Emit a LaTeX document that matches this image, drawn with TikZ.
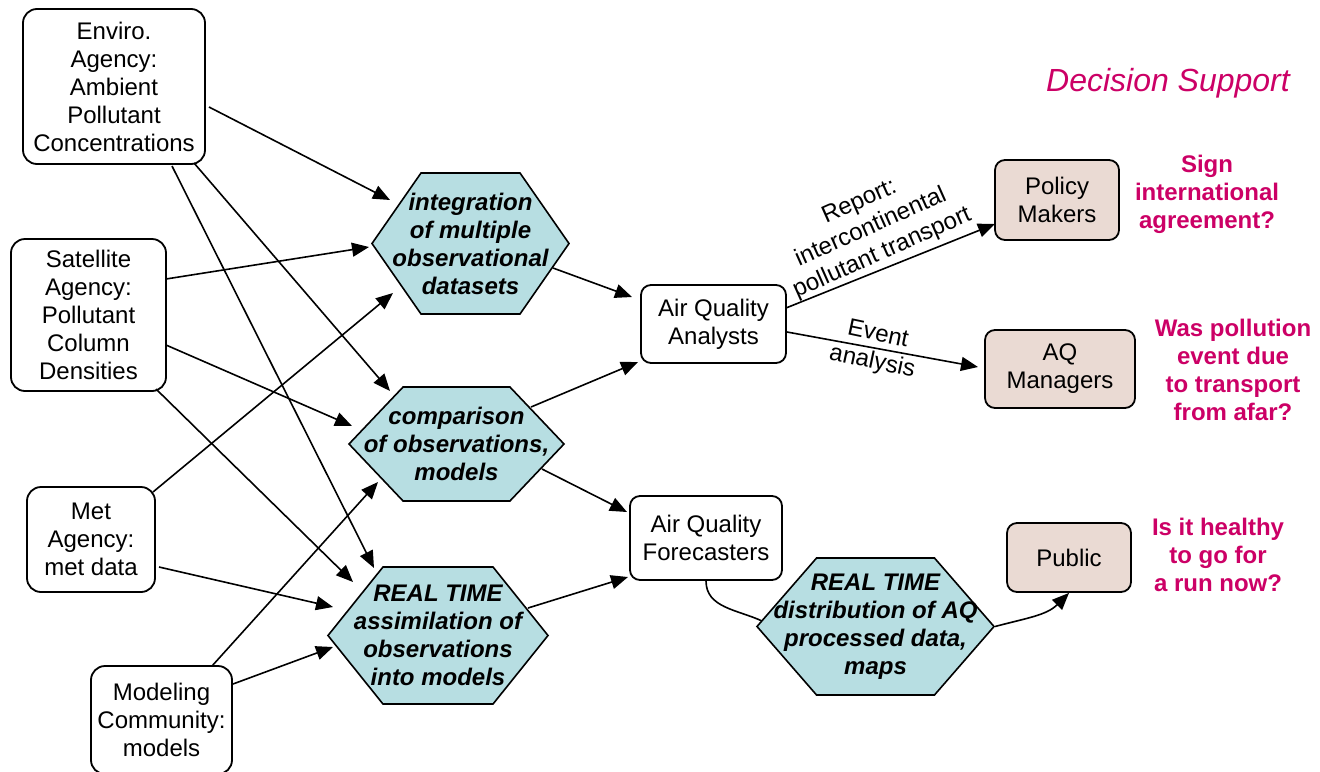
\documentclass[tikz,border=0pt]{standalone}
\usepackage{fontspec}
\setmainfont{Liberation Sans}
\usetikzlibrary{shapes.symbols,arrows.meta,calc}
\definecolor{hexfill}{RGB}{183,222,226}
\definecolor{pinkfill}{RGB}{234,218,211}
\definecolor{mag}{RGB}{204,0,102}
\begin{document}
\begin{tikzpicture}[x=0.5pt,y=-0.5pt,
  every node/.style={font=\fontsize{12}{14}\selectfont, align=center, inner sep=0pt},
  src/.style={draw, line width=0.9pt, rounded corners=7pt},
  dst/.style={draw, line width=0.9pt, rounded corners=5pt},
  pinkbox/.style={dst, fill=pinkfill},
  hexa/.style={signal, signal to=east and west, draw, fill=hexfill, line width=0.8pt},
  hextext/.style={font=\fontsize{12}{14}\selectfont\bfseries\itshape},
  q/.style={font=\fontsize{12}{14}\selectfont\bfseries, text=mag},
  arr/.style={line width=0.8pt, -{Triangle[length=8.5pt,width=7pt]}},
  ln/.style={line width=0.8pt}]
\path[fill=white,use as bounding box] (0,0) rectangle (1320,771);
% source boxes
\node[src, minimum width=91pt, minimum height=77.5pt] (env) at (114,86.5) {Enviro.\\Agency:\\Ambient\\Pollutant\\Concentrations};
\node[src, minimum width=77.5pt, minimum height=76pt] (sat) at (88.5,315) {Satellite\\Agency:\\Pollutant\\Column\\Densities};
\node[src, minimum width=64pt, minimum height=52.5pt] (met) at (91,539.5) {Met\\Agency:\\met data};
\node[src, minimum width=70.5pt, minimum height=54pt] (mod) at (161.5,720) {Modeling\\Community:\\models};
% hexagons
\node[hexa, minimum width=98.5pt, minimum height=70.5pt, signal pointer angle=110.4] (h1) at (470.5,243.5) {};
\node[hextext] (h1t) at (h1) {integration\\of multiple\\observational\\datasets};
\node[hexa, minimum width=107.5pt, minimum height=57pt, signal pointer angle=93] (h2) at (456.5,444) {};
\node[hextext] (h2t) at (h2) {comparison\\of observations,\\models};
\node[hexa, minimum width=110pt, minimum height=68.5pt, signal pointer angle=102.5] (h3) at (438,635.5) {};
\node[hextext] (h3t) at (h3) {REAL TIME\\assimilation of\\observations\\into models};
\node[hexa, minimum width=118.5pt, minimum height=68.5pt, signal pointer angle=98] (h4) at (875.5,626.5) {};
\node[hextext] (h4t) at (h4) {REAL TIME\\distribution of AQ\\processed data,\\maps};
% user boxes
\node[dst, minimum width=72.5pt, minimum height=39pt] (ana) at (713.5,324) {Air Quality\\Analysts};
\node[dst, minimum width=76pt, minimum height=42pt] (fc) at (706,538) {Air Quality\\Forecasters};
\node[pinkbox, minimum width=62pt, minimum height=40pt] (pol) at (1057,200) {Policy\\Makers};
\node[pinkbox, minimum width=75pt, minimum height=39pt] (aqm) at (1060,369) {AQ\\Managers};
\node[pinkbox, minimum width=62pt, minimum height=34.5pt] (pub) at (1069,557.5) {Public};
% texts
\node[font=\fontsize{16}{19}\selectfont\itshape, text=mag] (ds) at (1168,83) {Decision Support};
\node[q] (q1) at (1207,194) {Sign\\international\\agreement?};
\node[q] (q2) at (1233,370) {Was pollution\\event due\\to transport\\from afar?};
\node[q] (q3) at (1218,555) {Is it healthy\\to go for\\a run now?};
\node[rotate=24] (lblrep) at (871,228) {Report:\\intercontinental\\pollutant transport};
\node[rotate=-12] (lblevt) at (875,349) {Event\\analysis};
% connectors
\draw[arr] ($(env)+(95,20.5)$) -- ($(h1)+(-80.5,-43.5)$);
\draw[arr] ($(env)+(80,76.5)$) -- ($(h2)+(-66.5,-53)$);
\draw[arr] ($(env)+(58,79.5)$) -- ($(h3)+(-64,-67.5)$);
\draw[arr] ($(sat)+(77.5,-36)$) -- ($(h1)+(-101.5,3.5)$);
\draw[arr] ($(sat)+(77.5,30)$) -- ($(h2)+(-104.5,-18)$);
\draw[arr] ($(sat)+(67.5,74)$) -- ($(h3)+(-85,-53.5)$);
\draw[arr] ($(met)+(62,-47.5)$) -- ($(h1)+(-77.5,49.5)$);
\draw[arr] ($(met)+(68,27.5)$) -- ($(h3)+(-105,-28.5)$);
\draw[arr] ($(mod)+(50.5,-54)$) -- ($(h2)+(-78.5,38)$);
\draw[arr] ($(mod)+(71.5,-36)$) -- ($(h3)+(-105,11.5)$);
\draw[arr] ($(h1)+(82.5,24.5)$) -- ($(ana)+(-81.5,-27)$);
\draw[arr] ($(h2)+(74.5,-37)$) -- ($(ana)+(-75.5,38)$);
\draw[arr] ($(h2)+(85.5,25)$) -- ($(fc)+(-79,-26)$);
\draw[arr] ($(h3)+(90,-27.5)$) -- ($(fc)+(-78,39)$);
\draw[arr] ($(ana)+(72.5,-16)$) -- ($(pol)+(-62,24)$);
\draw[arr] ($(ana)+(73.5,8)$) -- ($(aqm)+(-82,-2)$);
\draw[ln] (fc.south) to[out=-90,in=155] ($(h4)+(-113.5,-5.5)$);
\draw[arr] (h4.east) to[out=15,in=225] (pub.south);
\end{tikzpicture}
\end{document}
